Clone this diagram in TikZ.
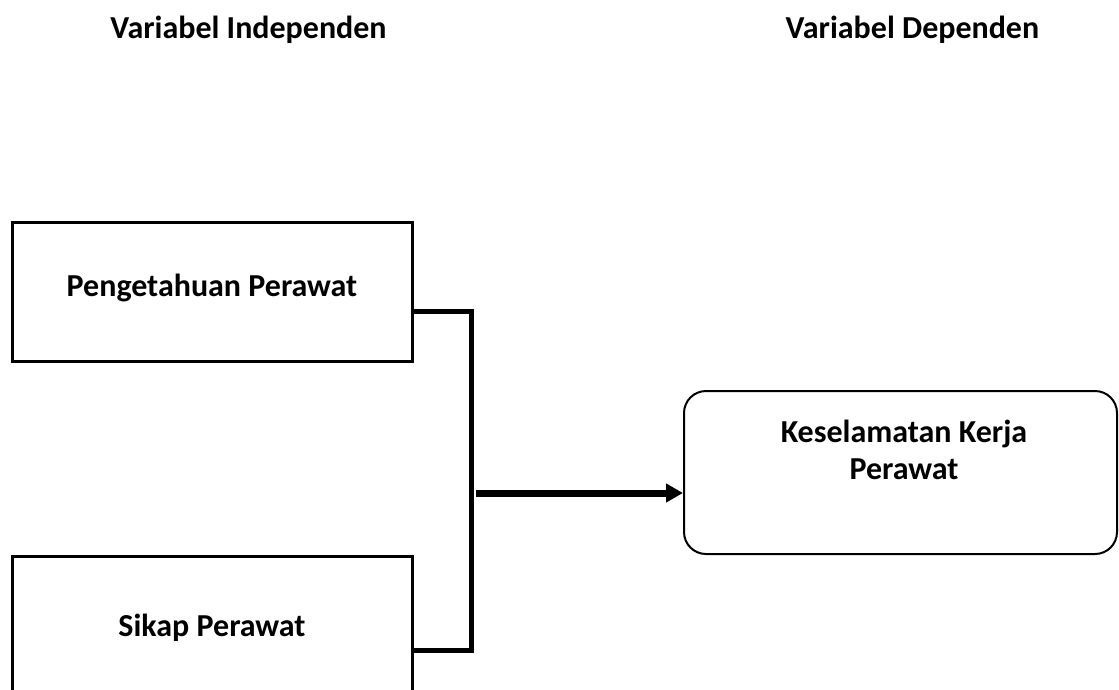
\documentclass[tikz,border=0pt]{standalone}
\usepackage{fontspec}
\setmainfont{Carlito}
\usetikzlibrary{arrows.meta}
\tikzset{
  px/.style={x=0.75pt,y=-0.75pt},
  varbox/.style={draw=black,line width=2.25pt,rectangle,minimum width=300pt,inner sep=0pt},
  depbox/.style={draw=black,line width=1.5pt,rectangle,rounded corners=16.5pt,minimum width=324.75pt,minimum height=122.25pt,inner sep=0pt},
  lbl/.style={font=\bfseries\fontsize{24}{27.75}\selectfont,anchor=base,inner sep=0pt,align=center},
  joinline/.style={line width=3.75pt,line cap=butt,line join=miter},
  mainarrow/.style={line width=5.25pt,-{Triangle[length=12.75pt,width=13.5pt]}}
}
\begin{document}
\begin{tikzpicture}[px]
\useasboundingbox (0,0) rectangle (1119,689);
% titles
\node[lbl] (tind) at (248.5,38) {Variabel Independen};
\node[lbl] (tdep) at (912.5,38) {Variabel Dependen};
% independent boxes
\node[varbox,minimum height=104.25pt] (b1) at (212,291.5) {};
\node[lbl] (t1) at (212,296) {Pengetahuan Perawat};
\node[varbox,minimum height=138pt] (b2) at (212,648) {};
\node[lbl] (t2) at (212,636) {Sikap Perawat};
% dependent box
\node[depbox] (d) at (900.5,472.5) {};
\node[lbl] (t3) at (904,442) {Keselamatan Kerja};
\node[lbl] (t4) at (904,479) {Perawat};
% joining bracket
\coordinate (j1) at (471,311);
\coordinate (j2) at (471,650);
\draw[joinline] (b1.east |- j1) -- (j1) -- (j2) -- (b2.east |- j2);
% arrow
\coordinate (a0) at (476,493);
\draw[mainarrow] (a0) -- (d.west |- a0);
\end{tikzpicture}
\end{document}
